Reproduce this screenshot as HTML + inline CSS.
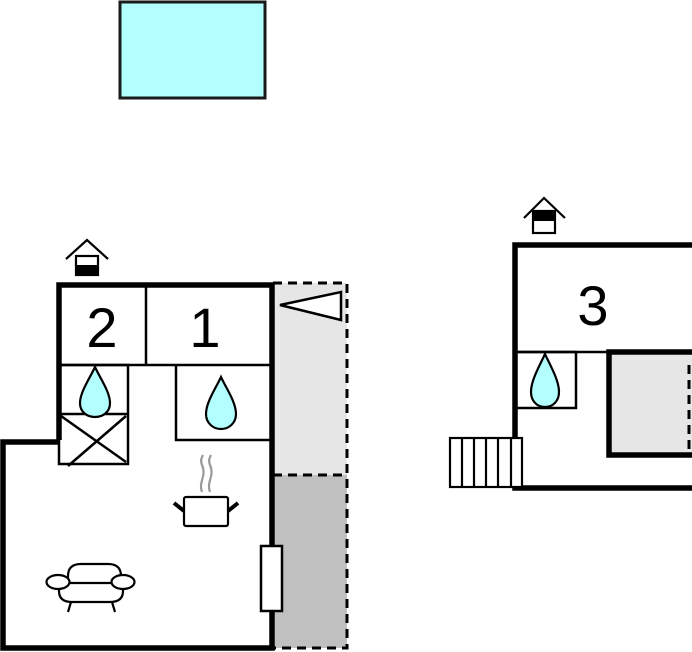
<!DOCTYPE html>
<html><head><style>html,body{margin:0;padding:0;background:#fff;width:692px;height:652px;overflow:hidden}</style></head>
<body>
<svg width="692" height="652" viewBox="0 0 692 652" xmlns="http://www.w3.org/2000/svg" font-family="Liberation Sans, sans-serif">
<rect x="120" y="2" width="145" height="96" fill="#b3ffff" stroke="#1a1a1a" stroke-width="3"/>

<rect x="273" y="283" width="74" height="192" fill="#e6e6e6"/>
<rect x="273" y="475" width="74" height="173" fill="#c0c0c0"/>
<path d="M273 283 H347 V648 H273 M273 475 H347" fill="none" stroke="#000" stroke-width="3" stroke-dasharray="9,6"/>
<polygon points="280,305 341,292 341,320" fill="#fff" stroke="#000" stroke-width="2.5"/>

<g stroke="#000" stroke-width="2.5" fill="none">
<line x1="59" y1="365" x2="272" y2="365"/>
<line x1="146" y1="283" x2="146" y2="365"/>
<rect x="59" y="365" width="69" height="99"/>
<line x1="59" y1="414" x2="128" y2="414"/>
<line x1="61" y1="416" x2="126" y2="462"/>
<line x1="126" y1="416" x2="68" y2="466"/>
<polyline points="176,365 176,440 272,440"/>
</g>
<path d="M59 440 V285 H272 V648 H3 V442 H59" fill="none" stroke="#000" stroke-width="5.5"/>
<rect x="261" y="546" width="21" height="65" fill="#fff" stroke="#000" stroke-width="2.5"/>

<text x="102" y="347" font-size="56" text-anchor="middle">2</text>
<text x="205" y="347" font-size="56" text-anchor="middle">1</text>

<path d="M95 367 C100 378 110 392 110 403 C110 412 103 417 95 417 C87 417 80 412 80 403 C80 392 90 378 95 367 Z" fill="#b3ffff" stroke="#000" stroke-width="2.2"/>
<path d="M221 377 C226 388 236 402 236 414 C236 423 229 429 221 429 C213 429 206 423 206 414 C206 402 216 388 221 377 Z" fill="#b3ffff" stroke="#000" stroke-width="2.2"/>
<path d="M545 354 C550 365 559 380 559 392 C559 401 553 407 545 407 C537 407 531 401 531 392 C531 380 540 365 545 354 Z" fill="#b3ffff" stroke="#000" stroke-width="2.2"/>

<path d="M202 492 C198 482 207 476 202 465 C200 460 202 457 203 455 M210 492 C206 482 215 476 210 465 C208 460 210 457 211 455" fill="none" stroke="#999" stroke-width="2.2"/>
<rect x="184" y="497" width="44" height="29" rx="2" fill="#fff" stroke="#000" stroke-width="2.2"/>
<line x1="174" y1="503" x2="184" y2="511" stroke="#000" stroke-width="4"/>
<line x1="238" y1="503" x2="228" y2="511" stroke="#000" stroke-width="4"/>

<g stroke="#000" stroke-width="2.2" fill="#fff">
<path d="M68 587 V576 Q68 564 81 564 H108 Q121 564 121 576 V587 Z"/>
<path d="M59 583 V591 Q59 602 72 602 H110 Q123 602 123 591 V583 Z"/>
<ellipse cx="58" cy="582" rx="11.5" ry="7"/>
<ellipse cx="123" cy="582" rx="11.5" ry="7"/>
<line x1="71" y1="602" x2="68" y2="612"/>
<line x1="112" y1="602" x2="115" y2="612"/>
</g>

<g stroke="#000" stroke-width="2.2" fill="none">
<polyline points="66,259 87,240 108,259"/>
<rect x="76" y="256" width="22" height="19" fill="#fff"/>
<rect x="75" y="265" width="24" height="11" fill="#000" stroke="none"/>
</g>
<g stroke="#000" stroke-width="2.2" fill="none">
<polyline points="524,218 544,198 565,218"/>
<rect x="533" y="211" width="22" height="22" fill="#fff"/>
<rect x="533" y="211" width="22" height="10" fill="#000" stroke="none"/>
</g>

<rect x="608" y="352" width="84" height="103" fill="#e6e6e6"/>
<line x1="689" y1="365" x2="689" y2="450" stroke="#000" stroke-width="3" stroke-dasharray="9,6"/>
<g stroke="#000" stroke-width="2.5" fill="none">
<line x1="514" y1="352" x2="608" y2="352"/>
<rect x="516" y="352" width="60" height="56"/>
</g>
<path d="M692 455 H609 V352 H692" fill="none" stroke="#000" stroke-width="5.5"/>
<path d="M692 245 H515 V488 H692" fill="none" stroke="#000" stroke-width="5.5"/>
<text x="593" y="325" font-size="56" text-anchor="middle">3</text>
<g stroke="#000" stroke-width="2.2" fill="#fff">
<rect x="450" y="438" width="72" height="49"/>
<line x1="462" y1="438" x2="462" y2="487"/>
<line x1="474" y1="438" x2="474" y2="487"/>
<line x1="486" y1="438" x2="486" y2="487"/>
<line x1="498" y1="438" x2="498" y2="487"/>
<line x1="511" y1="438" x2="511" y2="487"/>
</g>
</svg>
</body></html>
